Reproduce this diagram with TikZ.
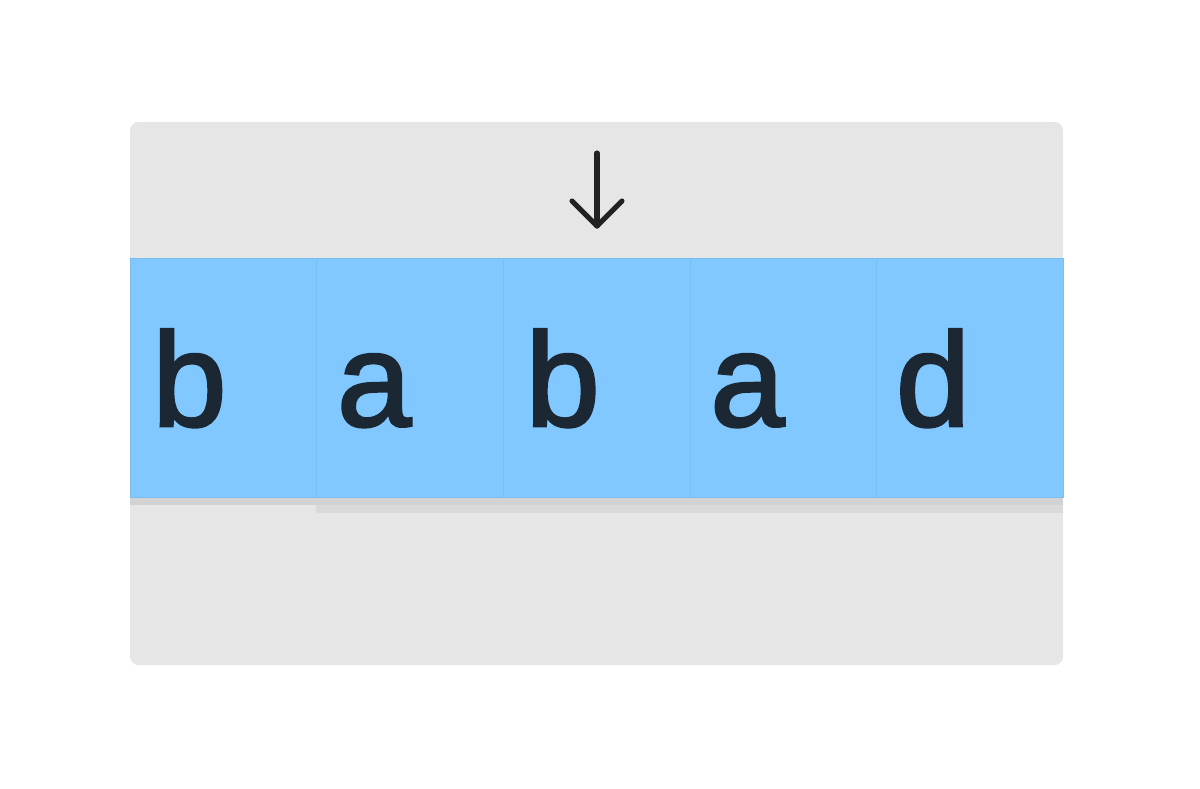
\documentclass[tikz,border=0pt]{standalone}
\usepackage{fontspec}
\setmainfont{Liberation Sans}
\newfontfamily\fonteletra[FakeBold=2]{Liberation Sans}
\usetikzlibrary{calc,positioning}
\definecolor{cinzapainel}{HTML}{E6E6E6}
\definecolor{azulcelula}{HTML}{80C8FF}
\definecolor{azulborda}{HTML}{78BEF2}
\definecolor{cinzasombra}{HTML}{D2D2D2}
\definecolor{corletra}{HTML}{1B2733}
\definecolor{corseta}{HTML}{222222}
\begin{document}
\begin{tikzpicture}[
  x=0.025cm,y=-0.025cm,
  celula/.style={draw=azulborda,line width=0.6pt,fill=azulcelula,minimum width=4.665cm,
                 minimum height=5.98cm,inner sep=0pt,outer sep=0pt,anchor=north west},
  letra/.style={anchor=base west,inner sep=0pt,text=corletra,font=\fonteletra\fontsize{95}{95}\selectfont},
  seta/.style={line width=3.6pt,draw=corseta,line cap=round,line join=round}
]
  \useasboundingbox (0,0) rectangle (1200,788);
  \fill[cinzapainel,rounded corners=6] (130,122) rectangle (1063,665);
  % sombra
  \fill[cinzasombra,opacity=0.6] (316,498) rectangle (1063,513);
  \fill[cinzasombra] (130,498) rectangle (1063,505);

  \node[celula] (c1) at (130,258) {};
  \node[celula,right=0pt of c1] (c2) {};
  \node[celula,right=0pt of c2] (c3) {};
  \node[celula,right=0pt of c3] (c4) {};
  \node[celula,right=0pt of c4] (c5) {};

  \node[letra] (l1) at ($(c1.north west)+(22,168)$) {b};
  \node[letra] (l2) at ($(c2.north west)+(20,168)$) {a};
  \node[letra] (l3) at ($(c3.north west)+(22,168)$) {b};
  \node[letra] (l4) at ($(c4.north west)+(20,168)$) {a};
  \node[letra] (l5) at ($(c5.north west)+(19,168)$) {d};

  \coordinate (topo) at (597,153);
  \coordinate (ponta) at (597,226);
  \draw[seta] (topo) -- (ponta);
  \draw[seta] ($(ponta)+(-25,-25)$) -- (ponta) -- ($(ponta)+(25,-25)$);
\end{tikzpicture}
\end{document}
